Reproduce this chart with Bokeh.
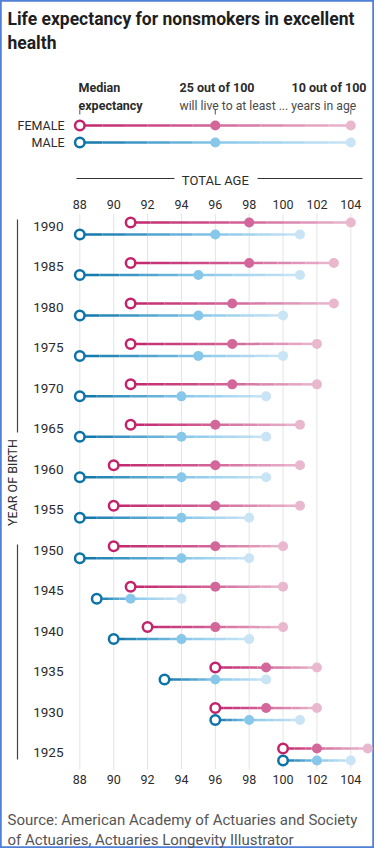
import numpy as np
from bokeh.plotting import figure
from bokeh.models import Range1d, ColumnDataSource
from bokeh.core.properties import value
from bokeh.transform import dodge
from bokeh.embed import file_html
from bokeh.resources import INLINE

# ---------------- data ----------------
years = [1990, 1985, 1980, 1975, 1970, 1965, 1960, 1955, 1950, 1945, 1940, 1935, 1930, 1925]
female_median = [91, 91, 91, 91, 91, 91, 90, 90, 90, 91, 92, 96, 96, 100]
female_25 = [98, 98, 97, 97, 97, 96, 96, 96, 96, 96, 96, 99, 99, 102]
female_10 = [104, 103, 103, 102, 102, 101, 101, 101, 100, 100, 100, 102, 102, 105]
male_median = [88, 88, 88, 88, 88, 88, 88, 88, 88, 89, 90, 93, 96, 100]
male_25 = [96, 95, 95, 95, 94, 94, 94, 94, 94, 91, 94, 96, 98, 102]
male_10 = [101, 101, 100, 100, 99, 99, 99, 98, 98, 94, 98, 99, 101, 104]
age_ticks = [88, 90, 92, 94, 96, 98, 100, 102, 104]
legend_ages = [88, 96, 104]
legend_rows = ["FEMALE", "MALE"]

title_lines = ["Life expectancy for nonsmokers in excellent", "health"]
source_lines = ["Source: American Academy of Actuaries and Society",
                "of Actuaries, Actuaries Longevity Illustrator"]

# ---------------- layout / styles ----------------
W, H = 374, 848
PPY = 16.9375                 # pixels per year of age
X0 = 88 - 79.3 / PPY          # data x at the left edge
X1 = X0 + W / PPY
ROW_PX = 526 / 65             # pixels per birth year
YR_TOP = 1990 + 228 / ROW_PX
YR_BOT = YR_TOP - H / ROW_PX
OFF = 6 / ROW_PX              # female above / male below row centre

FONT = value("Roboto")
DARK = "#2b2b2b"
GREY = "#4a4a4a"

F_COL = ("#c2246c", "#d3679a", "#e9b8ce")
M_COL = ("#0b73a8", "#86c7ea", "#c9e4f5")


def X(px):   # reference pixel -> data x
    return X0 + (px - 8) / PPY


def Y(py):   # reference pixel -> canvas y
    return py - 8


def mix(c1, c2, t):
    a = [int(c1[i:i + 2], 16) for i in (1, 3, 5)]
    b = [int(c2[i:i + 2], 16) for i in (1, 3, 5)]
    return "#%02x%02x%02x" % tuple(int(round(a[k] + (b[k] - a[k]) * t)) for k in range(3))


def gradient_pieces(starts, mids, ends, cols, n=6):
    x0, x1, col, idx = [], [], [], []
    for i, (s, m, e) in enumerate(zip(starts, mids, ends)):
        for (a, b, ca, cb) in ((s, m, cols[0], cols[1]), (m, e, cols[1], cols[2])):
            for k in range(n):
                x0.append(a + (b - a) * k / n)
                x1.append(a + (b - a) * (k + 1) / n)
                col.append(mix(ca, cb, (k + 0.5) / n))
                idx.append(i)
    return x0, x1, col, idx


p = figure(width=W, height=H, x_range=Range1d(X0, X1), y_range=Range1d(H, 0),
           output_backend="svg", toolbar_location=None, min_border=0,
           x_axis_location=None, y_axis_location=None)
p.xgrid.visible = False
p.ygrid.visible = False
p.extra_y_ranges = {"yr": Range1d(YR_BOT, YR_TOP)}
p.background_fill_color = "white"
p.border_fill_color = "white"
p.outline_line_color = "#4f7fd6"
p.outline_line_width = 2.5

# ---------------- title ----------------
p.text(x=[X(15)] * 2, y=[Y(26), Y(50)], text=title_lines, text_font=FONT,
       text_font_style="bold", text_font_size="17.5px", text_color="#1e1e1e",
       text_baseline="alphabetic", text_align="left")

# ---------------- key ----------------
p.text(x=[X(86), X(86)], y=[Y(95), Y(113)], text=["Median", "expectancy"], text_font=FONT,
       text_font_style="bold", text_font_size="12.5px", text_color=DARK, text_baseline="alphabetic")
p.text(x=[X(187)], y=[Y(95)], text=["25 out of 100"], text_font=FONT,
       text_font_style="bold", text_font_size="12.5px", text_color=DARK, text_baseline="alphabetic")
p.text(x=[X(374)], y=[Y(95)], text=["10 out of 100"], text_font=FONT, text_align="right",
       text_font_style="bold", text_font_size="12.5px", text_color=DARK, text_baseline="alphabetic")
p.text(x=[X(187)], y=[Y(113)], text=["will live to at least ... years in age"], text_font=FONT,
       text_font_size="12.2px", text_color=GREY, text_baseline="alphabetic")
p.segment(x0=legend_ages, x1=legend_ages, y0=Y(117), y1=Y(122), line_color="#555555", line_width=1)

key_y = [Y(133), Y(150)]
p.text(x=[X(72)] * 2, y=key_y, text=legend_rows, text_font=FONT, text_font_size="12.5px",
       text_color=DARK, text_align="right", text_baseline="middle")
for yk, cols in zip(key_y, (F_COL, M_COL)):
    kx0, kx1, kc, _ = gradient_pieces([legend_ages[0]], [legend_ages[1]], [legend_ages[2]], cols)
    p.segment(x0=kx0, x1=kx1, y0=yk, y1=yk, line_color=kc, line_width=2.5)
    p.scatter(x=[legend_ages[1]], y=[yk], size=10, fill_color=cols[1], line_color=None)
    p.scatter(x=[legend_ages[2]], y=[yk], size=10, fill_color=cols[2], line_color=None)
    p.scatter(x=[legend_ages[0]], y=[yk], size=9.5, fill_color="white", line_color=cols[0], line_width=2.5)

# ---------------- axis header ----------------
p.text(x=[96], y=[Y(188)], text=["TOTAL AGE"], text_font=FONT, text_font_size="13px",
       text_color=DARK, text_align="center", text_baseline="middle")
p.segment(x0=[X(84), X(265)], x1=[X(182), X(370)], y0=Y(186), y1=Y(186), line_color="#333333", line_width=1)

tick_lbl = [str(t) for t in age_ticks]
for ty in (Y(212), Y(787)):
    p.text(x=age_ticks, y=[ty] * len(age_ticks), text=tick_lbl, text_font=FONT, text_font_size="12.5px",
           text_color=DARK, text_align="center", text_baseline="middle")

# gridlines
p.segment(x0=age_ticks, x1=age_ticks, y0=Y(221), y1=Y(777), line_color="#e4e4e4", line_width=1)

# year of birth label + rule
p.text(x=[X(20)], y=[Y(490)], text=["YEAR OF BIRTH"], angle=np.pi / 2, text_font=FONT,
       text_font_size="12.5px", text_color=DARK, text_align="center", text_baseline="middle")
p.segment(x0=[X(25), X(25)], x1=[X(25), X(25)], y0=[Y(227), Y(552)], y1=[Y(440), Y(767)],
          line_color="#444444", line_width=1.2)

# year labels
ysrc = ColumnDataSource(dict(year=years, label=[str(y) for y in years], x=[X(71)] * len(years)))
p.text(x="x", y="year", text="label", source=ysrc, y_range_name="yr", y_offset=-2,
       text_font=FONT, text_font_size="13.5px", text_color=DARK, text_align="right", text_baseline="middle")

# ---------------- rows ----------------
for starts, mids, ends, cols, off in ((female_median, female_25, female_10, F_COL, OFF),
                                      (male_median, male_25, male_10, M_COL, -OFF)):
    gx0, gx1, gc, gi = gradient_pieces(starts, mids, ends, cols)
    seg = ColumnDataSource(dict(x0=gx0, x1=gx1, color=gc, year=[years[i] for i in gi]))
    p.segment(x0="x0", x1="x1", y0=dodge("year", off), y1=dodge("year", off), source=seg,
              y_range_name="yr", line_color="color", line_width=2.5)
    dots = ColumnDataSource(dict(year=years, s=starts, m=mids, e=ends))
    p.scatter(x="m", y=dodge("year", off), source=dots, y_range_name="yr", size=10,
              fill_color=cols[1], line_color=None)
    p.scatter(x="e", y=dodge("year", off), source=dots, y_range_name="yr", size=10,
              fill_color=cols[2], line_color=None)
    p.scatter(x="s", y=dodge("year", off), source=dots, y_range_name="yr", size=9.5,
              fill_color="white", line_color=cols[0], line_width=2.5)

# ---------------- source ----------------
p.text(x=[X(15)] * 2, y=[Y(827), Y(847)], text=source_lines, text_font=FONT, text_font_size="15px",
       text_color="#555555", text_baseline="alphabetic", text_align="left")

open("out.html", "w").write(file_html(p, INLINE))
